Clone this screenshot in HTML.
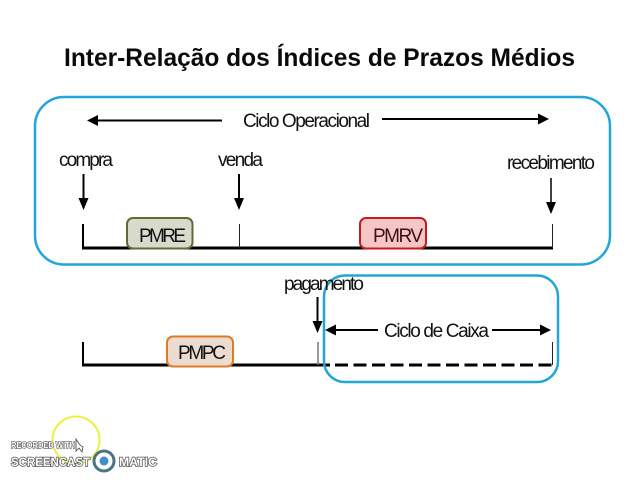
<!DOCTYPE html>
<html>
<head>
<meta charset="utf-8">
<style>
html,body{margin:0;padding:0;background:#fff;width:640px;height:480px;overflow:hidden}
svg{display:block}
text{font-family:"Liberation Sans",sans-serif;fill:#111}
.l{font-size:19px}
</style>
</head>
<body>
<svg width="640" height="480" viewBox="0 0 640 480">
<rect width="640" height="480" fill="#fff"/>
<text x="64" y="66" textLength="511" lengthAdjust="spacingAndGlyphs" style="font-size:25px;font-weight:bold;fill:#0a0a0a">Inter-Relação dos Índices de Prazos Médios</text>

<!-- outer box -->
<rect x="35" y="97" width="575" height="167.500" rx="29" fill="none" stroke="#22a5d8" stroke-width="2.500"/>

<!-- Ciclo operacional -->
<line x1="96" y1="120.500" x2="222" y2="120.500" stroke="#000" stroke-width="2"/>
<polygon points="87,120.500 98,115 98,126" fill="#000"/>
<text class="l" x="243" y="127" textLength="127" lengthAdjust="spacing">Ciclo Operacional</text>
<line x1="382" y1="119" x2="540" y2="119" stroke="#000" stroke-width="2"/>
<polygon points="549,119 538,113.500 538,124.500" fill="#000"/>

<!-- labels -->
<text class="l" x="59" y="166" textLength="54" lengthAdjust="spacing">compra</text>
<text class="l" x="218" y="166" textLength="45" lengthAdjust="spacing">venda</text>
<text class="l" x="507" y="169" textLength="88" lengthAdjust="spacing">recebimento</text>

<!-- down arrows -->
<line x1="83.500" y1="174" x2="83.500" y2="202" stroke="#000" stroke-width="2"/>
<polygon points="83.500,210 78.500,198 88.500,198" fill="#000"/>
<line x1="239" y1="174" x2="239" y2="202" stroke="#000" stroke-width="2"/>
<polygon points="239,210 234,198 244,198" fill="#000"/>
<line x1="551" y1="178" x2="551" y2="205" stroke="#000" stroke-width="1.500"/>
<polygon points="551,214 546,202 556,202" fill="#000"/>

<!-- top timeline -->
<line x1="82" y1="248" x2="553" y2="248" stroke="#000" stroke-width="3"/>
<line x1="83" y1="224" x2="83" y2="248" stroke="#000" stroke-width="2"/>
<line x1="239.500" y1="224" x2="239.500" y2="248" stroke="#222" stroke-width="1"/>
<line x1="552.500" y1="224" x2="552.500" y2="248" stroke="#222" stroke-width="1"/>

<rect x="127" y="218" width="65.500" height="30.500" rx="6" fill="#d8dbcb" stroke="#5f6b35" stroke-width="2"/>
<text class="l" x="139" y="242" textLength="47" lengthAdjust="spacing">PMRE</text>
<rect x="360" y="218" width="66" height="30.500" rx="6" fill="#f6c5c5" stroke="#c81a1e" stroke-width="2"/>
<text class="l" x="373" y="242" textLength="50" lengthAdjust="spacing" style="fill:#3a1212">PMRV</text>

<!-- bottom timeline -->
<line x1="82" y1="365" x2="330" y2="365" stroke="#000" stroke-width="3"/>
<line x1="83" y1="342" x2="83" y2="365" stroke="#000" stroke-width="2"/>
<line x1="318" y1="342" x2="318" y2="365" stroke="#777" stroke-width="1.500"/>
<line x1="335" y1="365" x2="553" y2="365" stroke="#000" stroke-width="3" stroke-dasharray="13 5.500"/>
<line x1="552.500" y1="342" x2="552.500" y2="365" stroke="#222" stroke-width="1"/>

<rect x="167" y="336.500" width="66" height="30" rx="6" fill="#ecdcd0" stroke="#dd7a26" stroke-width="2"/>
<text class="l" x="178" y="359" textLength="48" lengthAdjust="spacing">PMPC</text>

<!-- Ciclo de Caixa box -->
<rect x="324" y="275.500" width="234" height="106.500" rx="21" fill="none" stroke="#22a5d8" stroke-width="2.500"/>

<text class="l" x="284" y="290" textLength="80" lengthAdjust="spacing">pagamento</text>
<line x1="317.500" y1="297" x2="317.500" y2="325" stroke="#000" stroke-width="2"/>
<polygon points="317.500,333 312.500,321 322.500,321" fill="#000"/>

<line x1="333" y1="330" x2="378" y2="330" stroke="#000" stroke-width="2"/>
<polygon points="325,330 336,324.500 336,335.500" fill="#000"/>
<text class="l" x="384" y="337" textLength="105" lengthAdjust="spacing">Ciclo de Caixa</text>
<line x1="492" y1="330" x2="543" y2="330" stroke="#000" stroke-width="2"/>
<polygon points="551,330 540,324.500 540,335.500" fill="#000"/>

<!-- watermark -->
<circle cx="76" cy="440" r="23.500" fill="none" stroke="#efef40" stroke-width="2"/>
<text x="11" y="448" textLength="64" lengthAdjust="spacingAndGlyphs" style="font-size:8px;font-weight:bold;fill:#fff;stroke:#555;stroke-width:1.200px;paint-order:stroke">RECORDED WITH</text>
<text x="11" y="466" textLength="79" lengthAdjust="spacingAndGlyphs" style="font-size:12px;font-weight:bold;fill:#fff;stroke:#555;stroke-width:1.500px;paint-order:stroke">SCREENCAST</text>
<text x="119" y="466" textLength="38" lengthAdjust="spacingAndGlyphs" style="font-size:12px;font-weight:bold;fill:#fff;stroke:#555;stroke-width:1.500px;paint-order:stroke">MATIC</text>
<circle cx="104" cy="461" r="10" fill="#fff" stroke="#4d7287" stroke-width="3"/>
<circle cx="104" cy="461" r="4.500" fill="#3d8fce"/>
<polygon points="76,439 76,451 79,448 82,452 83,447 80,445" fill="#fff" stroke="#444" stroke-width="0.800"/>
</svg>
</body>
</html>
